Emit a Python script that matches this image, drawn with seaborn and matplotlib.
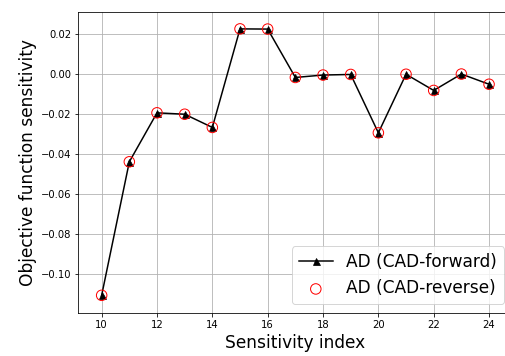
import matplotlib
matplotlib.use("Agg")
import matplotlib.pyplot as plt
import numpy as np
import seaborn as sns

# Sensitivity indices and objective-function sensitivities
sens_index = [10, 11, 12, 13, 14, 15, 16, 17, 18, 19, 20, 21, 22, 23, 24]
ad_forward = [-0.1105, -0.0437, -0.0192, -0.0199, -0.0265, 0.0228, 0.0227,
              -0.0015, -0.0003, 0.0000, -0.0292, 0.0001, -0.0080, 0.0002, -0.0049]
ad_reverse = [-0.1105, -0.0437, -0.0192, -0.0199, -0.0265, 0.0228, 0.0227,
              -0.0015, -0.0003, 0.0000, -0.0292, 0.0001, -0.0080, 0.0002, -0.0049]
xticks = [10, 12, 14, 16, 18, 20, 22, 24]
yticks = [-0.10, -0.08, -0.06, -0.04, -0.02, 0.00, 0.02]


def main() -> None:
    fig = plt.figure(figsize=(505 / 72, 356 / 72), dpi=72)
    ax = fig.add_axes([0.155, 0.1216, 0.86, 0.845])

    sns.lineplot(x=sens_index, y=ad_forward, ax=ax, color="black", marker="^",
                 markersize=7, linewidth=1.5, markeredgecolor="black",
                 label="AD (CAD-forward)")
    sns.scatterplot(x=sens_index, y=ad_reverse, ax=ax, marker="o", s=110,
                    facecolor="none", edgecolor="red", linewidth=1.0,
                    label="AD (CAD-reverse)", zorder=3)

    ax.set_xlim(9.155, 24.85)
    ax.set_ylim(-0.1192, 0.0313)
    ax.set_xticks(xticks)
    ax.set_yticks(yticks)
    ax.tick_params(labelsize=10)
    ax.grid(True, color="#b0b0b0", linewidth=0.8)
    ax.set_axisbelow(True)

    ax.set_xlabel("Sensitivity index", fontsize=17)
    ax.set_ylabel("Objective function sensitivity", fontsize=17)
    ax.legend(loc="lower right", fontsize=17)

    fig.savefig("out.png", dpi=72)
    plt.close(fig)


if __name__ == "__main__":
    main()
